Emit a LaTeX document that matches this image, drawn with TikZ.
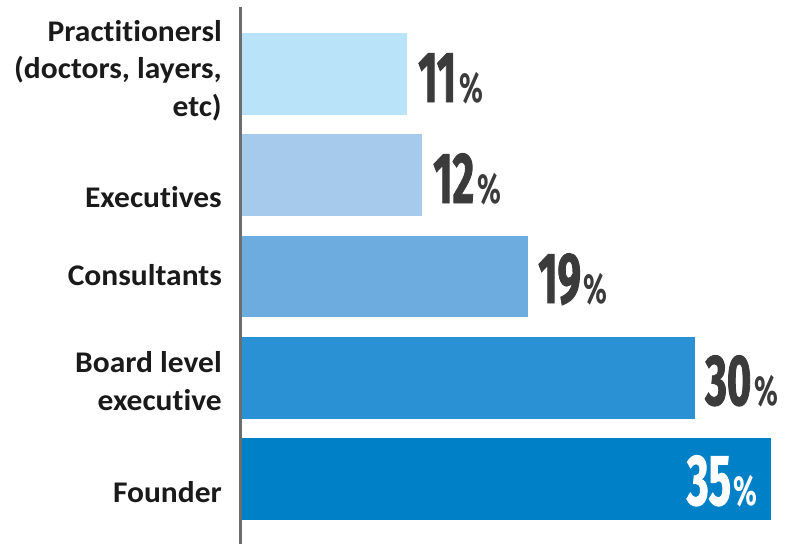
\documentclass[tikz,border=0pt]{standalone}
\usepackage{fontspec}
\setmainfont{Carlito}[FakeStretch=1.05, Ligatures=NoCommon]
\newfontfamily\numfont{Fira Sans}[FakeStretch=0.58, FakeBold=1.2]
\newfontfamily\pctfont{Fira Sans}[FakeStretch=0.66]
\definecolor{cA}{HTML}{B8E3F8}
\definecolor{cB}{HTML}{A6CAEC}
\definecolor{cC}{HTML}{6CACDF}
\definecolor{cD}{HTML}{2B91D5}
\definecolor{cE}{HTML}{0080C6}
\definecolor{axisgray}{HTML}{6D6D6D}
\definecolor{numgray}{HTML}{3B3B3B}
\definecolor{labblack}{HTML}{1A1A1A}
\newcommand{\pctval}[1]{{\numfont\bfseries\fontsize{72}{72}\selectfont #1}\kern3pt{\pctfont\bfseries\fontsize{42}{42}\selectfont\%}}
\begin{document}
\begin{tikzpicture}[x=1pt,y=-1pt,
  barbox/.style={fill=#1, draw=none},
  lab/.style={anchor=base east, align=right, inner sep=0pt, text=labblack,
    font=\bfseries\fontsize{30}{37.5}\selectfont},
  val/.style={anchor=base west, inner sep=0pt, text=numgray}]
\useasboundingbox (0,0) rectangle (787,544);
% bars
\path[barbox=cA] (240,33) rectangle (407,115) node[pos=.5] (b1) {};
\path[barbox=cB] (240,134) rectangle (422,216) node[pos=.5] (b2) {};
\path[barbox=cC] (240,236) rectangle (528,317) node[pos=.5] (b3) {};
\path[barbox=cD] (240,337) rectangle (695,419) node[pos=.5] (b4) {};
\path[barbox=cE] (240,438) rectangle (771,520) node[pos=.5] (b5) {};
% axis
\draw[axisgray, line width=3pt] (240,7) -- (240,544);
% labels (base anchor of a multi-line node = last line)
\node[lab] (l1) at (222,116) {Practitionersl\\(doctors, layers,\\etc)};
\node[lab] (l2) at (222,207) {Executives};
\node[lab] (l3) at (222,285) {Consultants};
\node[lab] (l4) at (222,410) {Board level\\executive};
\node[lab] (l5) at (222,502) {Founder};
% values
\node[val] (v1) at (418,102) {\pctval{11}};
\node[val] (v2) at (433,203) {\pctval{12}};
\node[val] (v3) at (538,303) {\pctval{19}};
\node[val] (v4) at (705,405) {\pctval{30}};
\node[val, text=white, anchor=base east] (v5) at (758,505) {\pctval{35}};
\end{tikzpicture}
\end{document}
